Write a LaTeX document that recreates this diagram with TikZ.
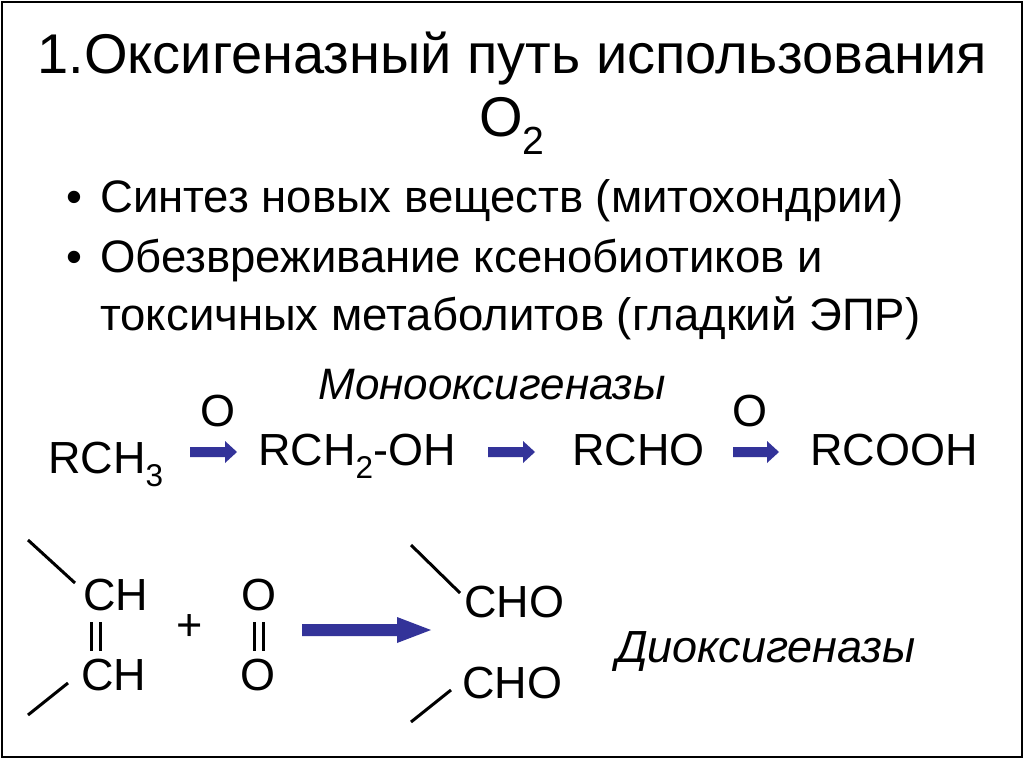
\documentclass[tikz,border=0pt]{standalone}
\usepackage{fontspec}
\setmainfont{Liberation Sans}
\definecolor{arr}{RGB}{51,51,153}
\begin{document}
\begin{tikzpicture}[x=1pt,y=-1pt,
  T/.style={inner sep=0pt,anchor=base west},
  big/.style={font=\fontsize{45}{50}\selectfont},
  bl/.style={line width=3pt},
  ar/.style={fill=arr,draw=none}]
\useasboundingbox (0,0) rectangle (1024,768);
\fill[white] (0,0) rectangle (1024,768);
\draw[line width=1.5pt] (2,2) rectangle (1022,757);
\node[inner sep=0pt,anchor=base,font=\fontsize{56}{60}\selectfont] (t1) at (512,74) {1.Оксигеназный путь использования};
\node[inner sep=0pt,anchor=base,font=\fontsize{56}{60}\selectfont] (t2) at (512,136) {O\textsubscript{2}};
\begin{scope}[font=\fontsize{45.5}{50}\selectfont]
\node[T] (b1) at (66,212) {•};
\node[T] (s1) at (100,212) {Синтез новых веществ (митохондрии)};
\node[T] (b2) at (66,272) {•};
\node[T] (s2) at (100,272) {Обезвреживание ксенобиотиков и};
\node[T] (s3) at (100,330) {токсичных метаболитов (гладкий ЭПР)};
\end{scope}
\node[inner sep=0pt,anchor=base,font=\fontsize{44}{48}\selectfont\itshape] (mono) at (492,399) {Монооксигеназы};
\begin{scope}[big]
\node[inner sep=0pt,anchor=base] (o1) at (218,426) {O};
\node[inner sep=0pt,anchor=base] (o2) at (750,426) {O};
\node[T] (r1) at (48,473) {RCH\textsubscript{3}};
\node[T] (r2) at (258,465) {RCH\textsubscript{2}-OH};
\node[T] (r3) at (572,465) {RCHO};
\node[T] (r4) at (810,465) {RCOOH};
\node[T] (c1) at (83,610) {CH};
\node[T] (c2) at (81,690) {CH};
\node[inner sep=0pt,anchor=base] (plus) at (190,640) {+};
\node[inner sep=0pt,anchor=base] (oa) at (259,610) {O};
\node[inner sep=0pt,anchor=base] (ob) at (258,690) {O};
\node[T] (d1) at (464,617) {CHO};
\node[T] (d2) at (462,698) {CHO};
\end{scope}
\node[T,font=\fontsize{45}{50}\selectfont\itshape] (di) at (616,662) {Диоксигеназы};
% arrows
\foreach \a/\b/\y in {190/237/452, 488/535/452, 733/779/452}{
  \fill[ar] (\a,\y-5) -- (\b-12,\y-5) -- (\b-12,\y-11) -- (\b,\y) -- (\b-12,\y+11) -- (\b-12,\y+5) -- (\a,\y+5) -- cycle;}
\fill[ar] (302,624) -- (397,624) -- (397,617) -- (431,630) -- (397,643) -- (397,636) -- (302,636) -- cycle;
% bonds
\draw[bl] (28,540) -- (75,583);
\draw[bl] (28,715) -- (68,683);
\draw[bl] (411,545) -- (460,593);
\draw[bl] (411,722) -- (451,690);
\draw[bl] (91,622) -- (91,651) (100,622) -- (100,651);
\draw[bl] (254,622) -- (254,651) (263,622) -- (263,651);
\end{tikzpicture}
\end{document}
